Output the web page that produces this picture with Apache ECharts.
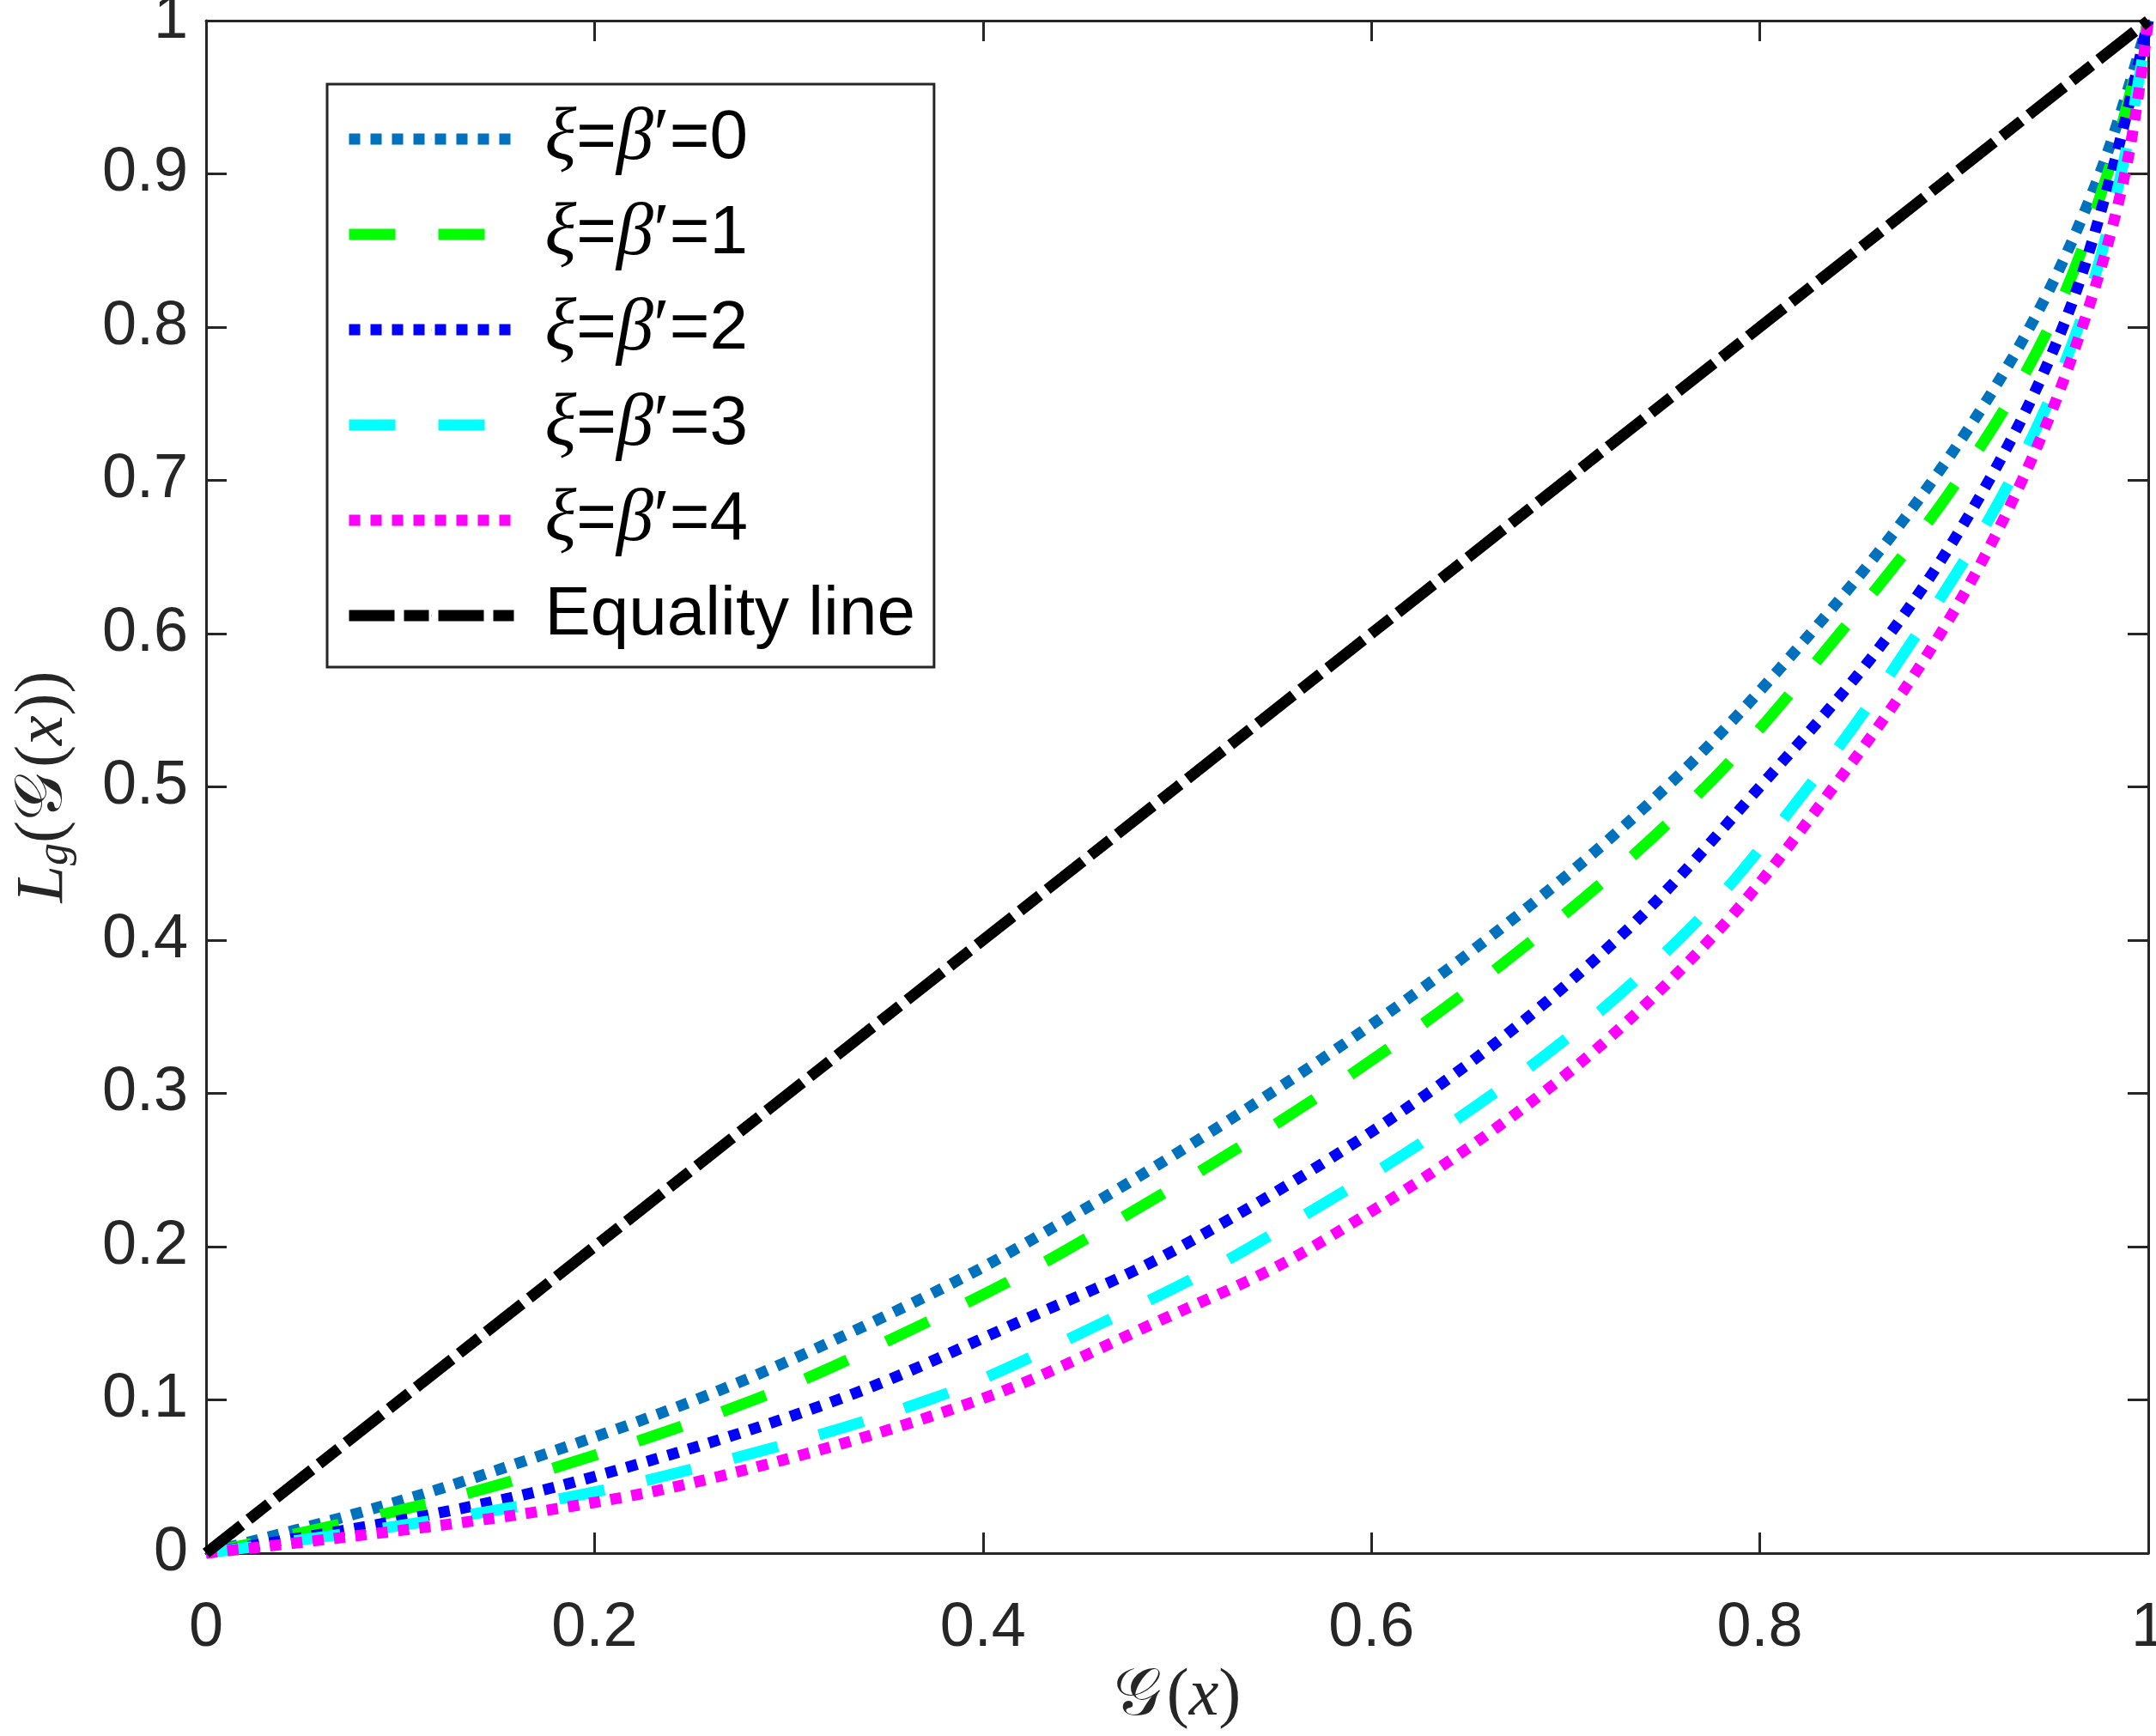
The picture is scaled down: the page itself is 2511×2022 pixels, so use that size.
<!DOCTYPE html>
<html>
<head>
<meta charset="utf-8">
<title>Lorenz curves</title>
<script src="https://cdn.jsdelivr.net/npm/echarts@6/dist/echarts.min.js"></script>
<style>
  html, body { margin: 0; padding: 0; background: #fff; }
  #chart { width: 2511px; height: 2022px; }
</style>
</head>
<body>
<div id="chart"></div>
<script>
// y levels the curves were read at, and where each curve crosses them on the x axis
const yLevels = [0, 0.025, 0.05, 0.1, 0.15, 0.2, 0.3, 0.4, 0.5, 0.6, 0.7, 0.8, 0.9, 1]
const xi0X = [0, 0.075, 0.14, 0.252, 0.342, 0.419, 0.548, 0.659, 0.752, 0.826, 0.889, 0.939, 0.975, 1]
const xi1X = [0, 0.09, 0.165, 0.282, 0.37, 0.446, 0.575, 0.683, 0.772, 0.841, 0.902, 0.949, 0.979, 1]
const xi2X = [0, 0.115, 0.2, 0.325, 0.417, 0.502, 0.629, 0.726, 0.8, 0.867, 0.918, 0.956, 0.981, 1]
const xi3X = [0, 0.135, 0.235, 0.372, 0.461, 0.538, 0.663, 0.758, 0.825, 0.881, 0.929, 0.964, 0.986, 1]
const xi4X = [0, 0.16, 0.264, 0.398, 0.488, 0.57, 0.688, 0.774, 0.838, 0.893, 0.935, 0.966, 0.988, 1]
const equalityX = [0, 1]
const equalityY = [0, 1]

const seriesNames = ['ξ=β′=0', 'ξ=β′=1', 'ξ=β′=2', 'ξ=β′=3', 'ξ=β′=4', 'Equality line']

const LW = 13
const dotted = [LW, 12]
const dashed = [54, 50]
const dashDot = [53, 11, 29, 11]

const pairs = (xs, ys) => xs.map((x, i) => [x, ys[i]])

const curve = (name, xs, ys, color, dash) => ({
  name,
  type: 'line',
  data: pairs(xs, ys),
  showSymbol: false,
  symbol: 'none',
  smooth: 0.35,
  silent: true,
  lineStyle: { color, width: LW, type: dash, cap: 'butt' },
  itemStyle: { color },
})

const mathFont = '"Liberation Serif", "DejaVu Serif", serif'
const textFont = '"Liberation Sans", Arial, sans-serif'
const ink = '#262626'

// all four sides of the box; onZero off so top/right stay where they belong
const frameAxis = {
  type: 'value',
  min: 0,
  max: 1,
  axisLine: { show: true, onZero: false, lineStyle: { color: ink, width: 3 } },
  axisTick: { show: true, inside: true, length: 24, lineStyle: { color: ink, width: 3 } },
  splitLine: { show: false },
}

const chart = echarts.init(document.getElementById('chart'))

chart.setOption({
  animation: false,
  backgroundColor: '#fff',
  grid: { left: 240, right: 9, top: 24, bottom: 213, outerBoundsMode: 'none' },
  legend: {
    orient: 'vertical',
    left: 381,
    top: 98,
    padding: [14, 22, 10, 19],
    itemWidth: 192,
    itemHeight: 1, // keeps the legend's circle marker hidden under the line
    itemGap: 11,
    selectedMode: false,
    borderColor: ink,
    borderWidth: 3,
    backgroundColor: '#fff',
    data: seriesNames,
    lineStyle: { width: LW },
    formatter: name => {
      if (name.startsWith('ξ')) {
        return '{g| }{m|ξ}{t|=}{m|β}{p|′}{t|=' + name.slice(-1) + '}'
      }
      return '{g| }{t|' + name + '}'
    },
    textStyle: {
      color: '#000',
      fontSize: 80,
      lineHeight: 100,
      fontFamily: textFont,
      rich: {
        g: { width: 31, fontSize: 80, lineHeight: 100 },
        t: { fontSize: 80, lineHeight: 100, fontFamily: textFont, color: '#000' },
        m: { fontSize: 86, lineHeight: 100, fontFamily: mathFont, fontStyle: 'italic', color: '#000' },
        p: { fontSize: 86, lineHeight: 100, fontFamily: mathFont, color: '#000' },
      },
    },
  },
  xAxis: [
    {
      ...frameAxis,
      interval: 0.2,
      position: 'bottom',
      name: '{c|𝒢}{n|(}{i|x}{n|)}',
      nameLocation: 'middle',
      nameGap: 128,
      nameTextStyle: {
        rich: {
          c: { fontSize: 78, fontFamily: mathFont, color: ink, padding: [0, 6, 0, 0] },
          i: { fontSize: 78, fontFamily: mathFont, fontStyle: 'italic', color: ink },
          n: { fontSize: 78, fontFamily: mathFont, color: ink },
        },
      },
      axisLabel: { margin: 52, fontSize: 72, fontFamily: textFont, color: ink },
    },
    {
      ...frameAxis,
      interval: 0.2,
      position: 'top',
      axisLabel: { show: false },
    },
  ],
  yAxis: [
    {
      ...frameAxis,
      interval: 0.1,
      position: 'left',
      name: '{i|L}{s|g}{n|(}{c|𝒢}{n|(}{i|x}{n|))}',
      nameLocation: 'middle',
      nameGap: 150,
      nameTextStyle: {
        rich: {
          i: { fontSize: 78, fontFamily: mathFont, fontStyle: 'italic', color: ink },
          c: { fontSize: 78, fontFamily: mathFont, color: ink, padding: [0, 6, 0, 0] },
          s: { fontSize: 52, fontFamily: mathFont, fontStyle: 'italic', color: ink, verticalAlign: 'bottom', lineHeight: 56 },
          n: { fontSize: 78, fontFamily: mathFont, color: ink },
        },
      },
      axisLabel: { margin: 21, fontSize: 72, fontFamily: textFont, color: ink },
    },
    {
      ...frameAxis,
      interval: 0.1,
      position: 'right',
      axisLabel: { show: false },
    },
  ],
  series: [
    curve(seriesNames[0], xi0X, yLevels, '#0072BD', dotted),
    curve(seriesNames[1], xi1X, yLevels, '#00FF00', dashed),
    curve(seriesNames[2], xi2X, yLevels, '#0000FF', dotted),
    curve(seriesNames[3], xi3X, yLevels, '#00FFFF', dashed),
    curve(seriesNames[4], xi4X, yLevels, '#FF00FF', dotted),
    curve(seriesNames[5], equalityX, equalityY, '#000000', dashDot),
  ],
})
</script>
</body>
</html>
